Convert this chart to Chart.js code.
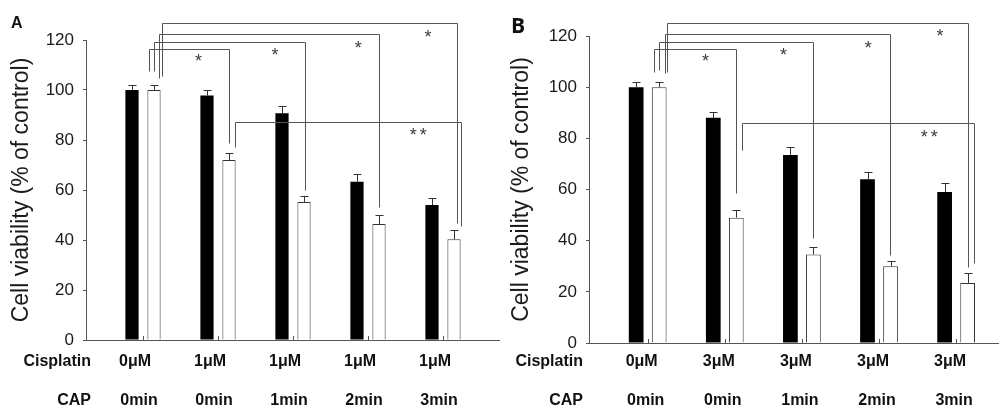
<!DOCTYPE html>
<html>
<head>
<meta charset="utf-8">
<script src="https://cdn.jsdelivr.net/npm/chart.js@4.4.0/dist/chart.umd.min.js"></script>
<style>
  html, body { margin: 0; padding: 0; background: #fff; }
  body { width: 999px; height: 407px; position: relative; overflow: hidden; }
  .panel { position: absolute; top: 0; height: 407px; }
  #panelA { left: 0; width: 500px; }
  #panelB { left: 500px; width: 499px; }
</style>
</head>
<body>
<div class="panel" id="panelA"><canvas id="chartA"></canvas></div>
<div class="panel" id="panelB"><canvas id="chartB"></canvas></div>
<script>
const groups = [0, 1, 2, 3, 4];
const cisplatinA = ["0μM", "1μM", "1μM", "1μM", "1μM"];
const cisplatinB = ["0μM", "3μM", "3μM", "3μM", "3μM"];
const capTimes = ["0min", "0min", "1min", "2min", "3min"];

const blackA = [100, 97.8, 90.7, 63.3, 54.0];
const blackErrA = [2.0, 2.3, 2.9, 3.2, 3.0];
const whiteA = [100, 72.0, 55.2, 46.4, 40.3];
const whiteErrA = [2.0, 3.0, 2.5, 3.6, 3.8];

const blackB = [100, 88.0, 73.5, 64.0, 59.0];
const blackErrB = [1.9, 2.1, 3.3, 2.8, 3.6];
const whiteB = [100, 49.0, 34.6, 30.0, 23.5];
const whiteErrB = [2.0, 3.1, 3.0, 2.1, 3.9];

// brackets: [from x, to x, bracket y, left foot y, right foot y] in axis units
const bracketsA = [
  [0.08, 1.15, 116.3, 107.6, 78.7],
  [0.14, 2.16, 119.0, 107.6, 60.0],
  [0.21, 3.15, 122.4, 105.0, 53.3],
  [0.25, 4.18, 126.7, 105.5, 46.8],
  [1.22, 4.24, 87.3, 77.3, 45.6]
];
const starsA = [[0.74, 113.3, "*"], [1.76, 115.7, "*"], [2.87, 118.3, "*"], [3.80, 123.0, "*"], [3.69, 83.6, "**"]];

const bracketsB = [
  [0.08, 1.15, 114.8, 106.0, 58.8],
  [0.15, 2.15, 117.5, 106.7, 40.9],
  [0.22, 3.14, 120.7, 105.6, 34.4],
  [0.25, 4.16, 125.2, 106.0, 29.8],
  [1.22, 4.23, 85.9, 75.4, 31.3]
];
const starsB = [[0.75, 111.9, "*"], [1.76, 114.3, "*"], [2.86, 116.8, "*"], [3.79, 121.5, "*"], [3.67, 82.2, "**"]];

const FONT = '"Liberation Sans", Arial, sans-serif';
const AXIS = "#555";

const extras = {
  id: "extras",
  afterDatasetsDraw(chart, args, opts) {
    const ctx = chart.ctx;
    const y = chart.scales.y;
    ctx.save();
    ctx.strokeStyle = "#333";
    ctx.lineWidth = 1;
    opts.errors.forEach((errs, d) => {
      const vals = chart.data.datasets[d].data;
      chart.getDatasetMeta(d).data.forEach((bar, i) => {
        const x = Math.round(bar.x) + 0.5;
        const top = y.getPixelForValue(vals[i].y);
        const end = Math.round(y.getPixelForValue(vals[i].y + errs[i])) + 0.5;
        ctx.beginPath();
        ctx.moveTo(x, top);
        ctx.lineTo(x, end);
        ctx.moveTo(x - 4, end);
        ctx.lineTo(x + 4, end);
        ctx.stroke();
      });
    });
    ctx.restore();
  },
  afterDraw(chart, args, opts) {
    const ctx = chart.ctx;
    const xs = chart.scales.x;
    const ys = chart.scales.y;
    const px = (v) => Math.round(xs.getPixelForValue(v)) + 0.5;
    const py = (v) => Math.round(ys.getPixelForValue(v)) + 0.5;
    ctx.save();

    // inward ticks on the x axis
    ctx.strokeStyle = AXIS;
    ctx.lineWidth = 1;
    groups.forEach((g) => {
      ctx.beginPath();
      ctx.moveTo(px(g), chart.chartArea.bottom);
      ctx.lineTo(px(g), chart.chartArea.bottom - 4);
      ctx.stroke();
    });

    // significance brackets
    ctx.strokeStyle = "#555";
    opts.brackets.forEach(([x1, x2, yb, f1, f2]) => {
      ctx.beginPath();
      ctx.moveTo(px(x1), py(f1));
      ctx.lineTo(px(x1), py(yb));
      ctx.lineTo(px(x2), py(yb));
      ctx.lineTo(px(x2), py(f2));
      ctx.stroke();
    });

    ctx.fillStyle = "#3f3a35";
    ctx.textAlign = "center";
    ctx.textBaseline = "alphabetic";
    ctx.font = "18px " + FONT;
    opts.stars.forEach(([xv, yv, s]) => {
      ctx.letterSpacing = s.length > 1 ? "3px" : "0px";
      ctx.fillText(s, xs.getPixelForValue(xv), ys.getPixelForValue(yv) + 10);
    });
    ctx.letterSpacing = "0px";

    // category rows
    ctx.fillStyle = "#111";
    ctx.font = "bold 16px " + FONT;
    ctx.textBaseline = "middle";
    groups.forEach((g) => {
      ctx.fillText(opts.cisplatin[g], xs.getPixelForValue(g) + opts.shift[0], 362);
      ctx.fillText(capTimes[g], xs.getPixelForValue(g) + opts.shift[1], 401);
    });
    ctx.textAlign = "right";
    ctx.fillText("Cisplatin", opts.rowRight, 362);
    ctx.fillText("CAP", opts.rowRight, 401);

    // panel letter
    ctx.textAlign = "left";
    ctx.font = opts.letterFont;
    ctx.fillText(opts.letter, 11, opts.letterY);
    ctx.restore();
  }
};

function makeChart(id, black, white, cfg) {
  return new Chart(document.getElementById(id), {
    type: "bar",
    data: {
      datasets: [
        {
          data: black.map((v, i) => ({ x: groups[i], y: v })),
          backgroundColor: "#000",
          borderColor: "#000",
          borderWidth: 0
        },
        {
          data: white.map((v, i) => ({ x: groups[i], y: v })),
          backgroundColor: "#fff",
          borderColor: "#333",
          borderWidth: 1
        }
      ]
    },
    options: {
      responsive: true,
      maintainAspectRatio: false,
      animation: false,
      categoryPercentage: cfg.catPct,
      barPercentage: cfg.barPct,
      layout: { padding: { top: cfg.top, left: 0, right: 0, bottom: 0 } },
      plugins: {
        legend: { display: false },
        tooltip: { enabled: false },
        extras: {
          errors: cfg.errors,
          brackets: cfg.brackets,
          stars: cfg.stars,
          cisplatin: cfg.cisplatin,
          shift: cfg.shift,
          rowRight: cfg.rowRight,
          letter: cfg.letter,
          letterFont: cfg.letterFont,
          letterY: cfg.letterY
        }
      },
      scales: {
        x: {
          type: "linear",
          offset: false,
          min: cfg.xMin,
          max: cfg.xMax,
          afterBuildTicks: (axis) => { axis.ticks = groups.map((g) => ({ value: g })); },
          afterFit: (axis) => { axis.height = cfg.xHeight; },
          ticks: { display: false },
          grid: { display: false, offset: false },
          border: { display: true, color: AXIS, width: 1 }
        },
        y: {
          min: 0,
          max: 120,
          afterFit: (axis) => { axis.width = cfg.yWidth; },
          ticks: { stepSize: 20, color: "#1a1a1a", padding: 9, font: { family: FONT, size: 17 } },
          grid: { drawOnChartArea: false, drawTicks: true, tickLength: 3, color: AXIS },
          border: { display: true, color: AXIS, width: 1 },
          title: {
            display: true,
            text: "Cell viability (% of control)",
            color: "#1a1a1a",
            font: { family: FONT, size: 23 },
            padding: { top: cfg.titlePad, bottom: 0 }
          }
        }
      }
    },
    plugins: [extras]
  });
}

makeChart("chartA", blackA, whiteA, {
  catPct: 0.587, barPct: 0.6, top: 40, xMin: -0.76, xMax: 4.76, xHeight: 67, yWidth: 86, titlePad: 8,
  errors: [blackErrA, whiteErrA], brackets: bracketsA, stars: starsA, cisplatin: cisplatinA,
  shift: [-8, -4], rowRight: 91, letter: "A", letterFont: "bold 16px " + FONT, letterY: 24
});

makeChart("chartB", blackB, whiteB, {
  catPct: 0.597, barPct: 0.64, top: 36, xMin: -0.761, xMax: 4.556, xHeight: 64, yWidth: 89, titlePad: 8,
  errors: [blackErrB, whiteErrB], brackets: bracketsB, stars: starsB, cisplatin: cisplatinB,
  shift: [-6, -2], rowRight: 83, letter: "B", letterFont: 'bold 21px "Open Sans", ' + FONT, letterY: 27
});
</script>
</body>
</html>
